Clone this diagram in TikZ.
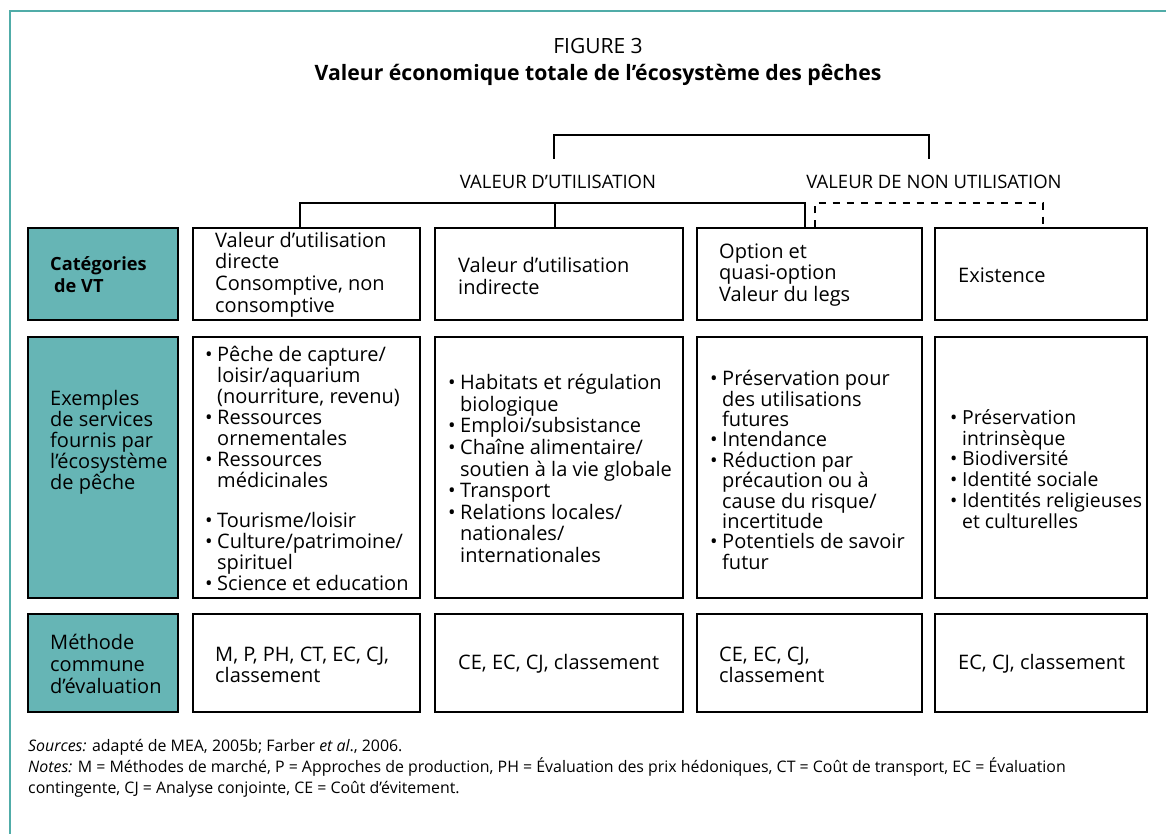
\documentclass[tikz,border=0pt]{standalone}
\usepackage{fontspec}
\setmainfont{Open Sans}
\definecolor{tealfill}{RGB}{102,181,181}
\definecolor{framecol}{RGB}{80,172,168}
\newcommand\fbody{\fontsize{20}{21}\selectfont}
\newcommand\bu{\makebox[12pt][l]{\textbullet}}
\newcommand\ind{\hspace*{12pt}}
\begin{document}
\begin{tikzpicture}[x=1pt,y=-1pt,
  cell/.style={draw=black, line width=1.3pt, fill=white, inner sep=0pt},
  tcell/.style={draw=black, line width=1.3pt, fill=tealfill, inner sep=0pt},
  txt/.style={anchor=west, align=left, inner sep=0pt, font=\fbody},
  conn/.style={line width=1.3pt, line cap=rect},
  hdr/.style={inner sep=0pt, font=\fontsize{18.5}{20}\selectfont}]
\useasboundingbox (0,0) rectangle (1166,834);
\draw[framecol, line width=2pt] (10,834) -- (10,11) -- (1166,11);

% titles
\node[inner sep=0pt, font=\fontsize{21}{23}\selectfont] (fig) at (598,46) {FIGURE 3};
\node[inner sep=0pt, font=\fontsize{21.2}{23}\selectfont\bfseries] (title) at (598,75) {Valeur économique totale de l’écosystème des pêches};

% headers
\node[hdr] (use) at (558,182) {VALEUR D’UTILISATION};
\node[hdr] (nonuse) at (934,182) {VALEUR DE NON UTILISATION};

% row 1
\node[tcell, minimum width=150pt, minimum height=92pt] (b10) at (103,274) {};
\node[cell, minimum width=227pt, minimum height=92pt] (b11) at (306.5,274) {};
\node[cell, minimum width=248pt, minimum height=92pt] (b12) at (559,274) {};
\node[cell, minimum width=225pt, minimum height=92pt] (b13) at (809.5,274) {};
\node[cell, minimum width=212pt, minimum height=92pt] (b14) at (1041,274) {};
% row 2
\node[tcell, minimum width=150pt, minimum height=261pt] (b20) at (103,467.5) {};
\node[cell, minimum width=227pt, minimum height=261pt] (b21) at (306.5,467.5) {};
\node[cell, minimum width=248pt, minimum height=261pt] (b22) at (559,467.5) {};
\node[cell, minimum width=225pt, minimum height=261pt] (b23) at (809.5,467.5) {};
\node[cell, minimum width=212pt, minimum height=261pt] (b24) at (1041,467.5) {};
% row 3
\node[tcell, minimum width=150pt, minimum height=98pt] (b30) at (103,663) {};
\node[cell, minimum width=227pt, minimum height=98pt] (b31) at (306.5,663) {};
\node[cell, minimum width=248pt, minimum height=98pt] (b32) at (559,663) {};
\node[cell, minimum width=225pt, minimum height=98pt] (b33) at (809.5,663) {};
\node[cell, minimum width=212pt, minimum height=98pt] (b34) at (1041,663) {};

% brackets
\coordinate (tl) at (554,158);
\coordinate (tr) at (929,158);
\draw[conn] (tl) -- (554,135) -- (929,135) -- (tr);
\coordinate (d1) at (300,203);
\coordinate (d2) at (555,203);
\coordinate (d3) at (805,203);
\draw[conn] (b11.north -| d1) -- (d1) -- (d3) -- (b13.north -| d3);
\draw[conn] (d2) -- (b12.north -| d2);
\coordinate (e1) at (815,203);
\coordinate (e2) at (1043,203);
\draw[conn, line cap=butt, dash pattern=on 7pt off 7pt] (b13.north -| e1) -- (e1) -- (e2) -- (b14.north -| e2);

% row 1 texts
\node[txt, font=\fontsize{18.2}{22}\selectfont\bfseries] (t10) at (50,275) {Catégories\\\hspace*{4pt}de VT};
\node[txt, font=\fontsize{20}{21.6}\selectfont] (t11) at (215,274.5) {Valeur d’utilisation\\directe\\Consomptive, non\\consomptive};
\node[txt, font=\fontsize{20}{22}\selectfont] (t12) at (458,276) {Valeur d’utilisation\\indirecte};
\node[txt, font=\fontsize{20}{21.5}\selectfont] (t13) at (719,275) {Option et\\quasi-option\\Valeur du legs};
\node[txt] (t14) at (958,275) {Existence};

% row 2 texts
\node[txt] (t20) at (50,442) {Exemples\\de services\\fournis par\\l’écosystème\\de pêche};
\node[txt] (t21) at (205,468.5) {\bu Pêche de capture/\\\ind loisir/aquarium\\\ind (nourriture, revenu)\\\bu Ressources\\\ind ornementales\\\bu Ressources\\\ind médicinales\\[19pt]\bu Tourisme/loisir\\\bu Culture/patrimoine/\\\ind spirituel\\\bu Science et education};
\node[txt, font=\fontsize{20}{21.6}\selectfont] (t22) at (448,468.5) {\bu Habitats et régulation\\\ind biologique\\\bu Emploi/subsistance\\\bu Chaîne alimentaire/\\\ind soutien à la vie globale\\\bu Transport\\\bu Relations locales/\\\ind nationales/\\\ind internationales};
\node[txt, font=\fontsize{20}{20.4}\selectfont] (t23) at (710,470) {\bu Préservation pour\\\ind des utilisations\\\ind futures\\\bu Intendance\\\bu Réduction par\\\ind précaution ou à\\\ind cause du risque/\\\ind incertitude\\\bu Potentiels de savoir\\\ind futur};
\node[txt, font=\fontsize{19.4}{20.8}\selectfont] (t24) at (950,469) {\bu Préservation\\\ind intrinsèque\\\bu Biodiversité\\\bu Identité sociale\\\bu Identités religieuses\\\ind et culturelles};

% row 3 texts
\node[txt, font=\fontsize{20}{22}\selectfont] (t30) at (50,664) {Méthode\\commune\\d’évaluation};
\node[txt] (t31) at (215,664.5) {M, P, PH, CT, EC, CJ,\\classement};
\node[txt] (t32) at (458,664) {CE, EC, CJ, classement};
\node[txt] (t33) at (719,664.5) {CE, EC, CJ,\\classement};
\node[txt] (t34) at (958,664) {EC, CJ, classement};

% notes
\node[anchor=west, align=left, inner sep=0pt, font=\fontsize{15.9}{21}\selectfont] (notes) at (28,768) {\textit{Sources:} adapté de MEA, 2005b; Farber \textit{et al}., 2006.\\\textit{Notes:} M = Méthodes de marché, P = Approches de production, PH = Évaluation des prix hédoniques, CT = Coût de transport, EC = Évaluation\\contingente, CJ = Analyse conjointe, CE = Coût d’évitement.};
\end{tikzpicture}
\end{document}
